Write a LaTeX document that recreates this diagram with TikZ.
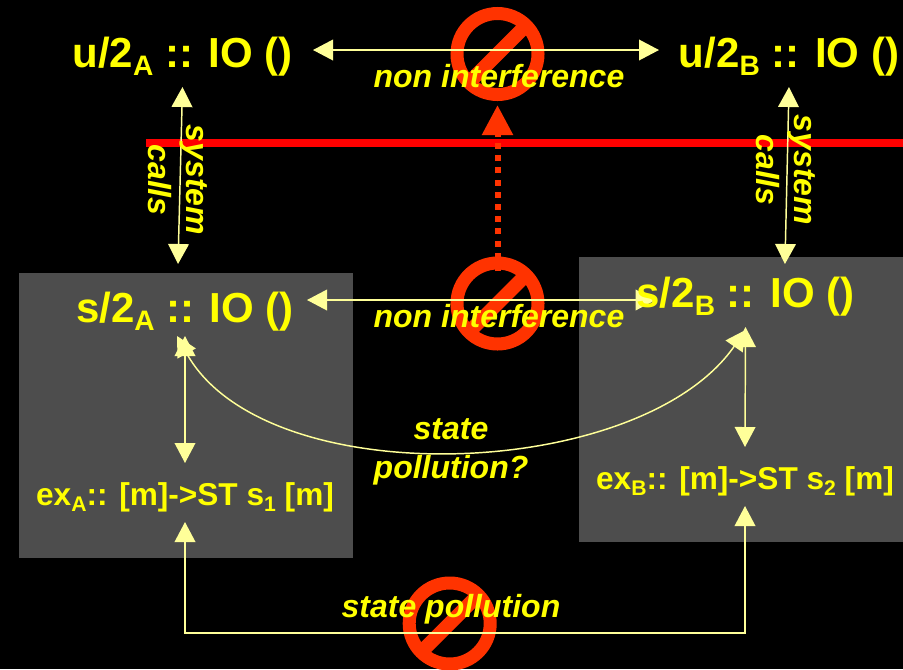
\documentclass[tikz,border=0pt]{standalone}
\usepackage{fontspec}
\usepackage{xcolor}
\setmainfont{Liberation Sans}
\usetikzlibrary{arrows.meta, backgrounds}
\definecolor{sigyellow}{HTML}{FFFF00}
\definecolor{linkyellow}{HTML}{FFFF99}
\definecolor{noorange}{HTML}{FF3300}
\definecolor{wallred}{HTML}{FF0000}
\definecolor{boxgray}{HTML}{4D4D4D}
\newcommand{\lowtxt}[1]{\raisebox{-.2em}{\scalebox{.67}{#1}}}

\begin{document}
\begin{tikzpicture}[
    x=0.75pt, y=-0.75pt,
    sig/.style={font=\fontsize{31.5}{38}\selectfont\bfseries, text=sigyellow, inner sep=0pt, outer sep=0pt, minimum height=54pt, text depth=0pt},
    exsig/.style={font=\fontsize{23.7}{29}\selectfont\bfseries, text=sigyellow, inner sep=0pt, outer sep=0pt, minimum height=44.25pt, text height=18.75pt, text depth=0pt},
    note/.style={font=\fontsize{24}{28.8}\selectfont\bfseries\itshape, text=sigyellow, inner sep=0pt, align=center},
    panel/.style={fill=boxgray, inner sep=0pt, minimum height=213.75pt},
    nosign/.style={circle, draw=noorange, line width=9.75pt, inner sep=0pt, outer sep=0pt, minimum size=60.75pt},
    noslash/.style={draw=noorange, line width=10.5pt},
    biarrow/.style={{Triangle[length=15pt,width=15.5pt]}-{Triangle[length=15pt,width=15.5pt]}, draw=linkyellow, line width=1.1pt},
    leakarrow/.style={-{Triangle[length=22.5pt,width=22.5pt]}, draw=noorange, line width=4.5pt, dash pattern=on 4.5pt off 4.65pt},
]
    \useasboundingbox (0, 0) rectangle (903, 669);

    % Backdrop, panels, kernel wall and prohibition signs
    \begin{scope}[on background layer]
        \fill[black] (0, 0) rectangle (903, 669);
        \node[panel, minimum width=250.5pt] (panelA) at (185.5, 415.5) {};
        \node[panel, minimum width=243pt] (panelB) at (741, 399.5) {};
        \fill[wallred] (146, 139.3) rectangle (903, 147.3);
        \node[nosign] (noTop) at (497.5, 54) {};
        \node[nosign] (noMid) at (497.5, 303.5) {};
        \node[nosign] (noBot) at (449.7, 623.5) {};
        \draw[noslash] (noTop.225) -- (noTop.45);
        \draw[noslash] (noMid.225) -- (noMid.45);
        \draw[noslash] (noBot.225) -- (noBot.45);
    \end{scope}

    % User level
    \node[sig, minimum width=195.75pt, minimum height=55.5pt, text height=25.5pt] (uA) at (182.5, 50) {u/2\lowtxt{A} :: IO ()};
    \node[sig, minimum width=195pt, minimum height=55.5pt, text height=25.5pt] (uB) at (789, 50) {u/2\lowtxt{B} :: IO ()};

    % Server level
    \node[sig, minimum width=183pt, text height=33pt] (sA) at (185, 300) {s/2\lowtxt{A} :: IO ()};
    \node[sig, text height=10.5pt] (sB) at (745.5, 300) {s/2\lowtxt{B} :: IO ()};
    \node[exsig] (exA) at (185, 492.5) {ex\lowtxt{A}:: [m]->ST s\lowtxt{1} [m]};
    \node[exsig] (exB) at (745, 476.5) {ex\lowtxt{B}:: [m]->ST s\lowtxt{2} [m]};

    % Labels
    \node[note, anchor=base] (nonTop) at (499, 87) {non interference};
    \node[note, anchor=base] (nonMid) at (499, 327) {non interference};
    \node[note] (pollQ) at (451, 452) {state\\pollution?};
    \node[note, anchor=base] (pollBot) at (451, 617) {state pollution};
    \node[note, rotate=-90] (callsA) at (178, 180) {system\\calls};
    \node[note, rotate=-90] (callsB) at (786, 170) {system\\calls};

    % Connections
    \begin{scope}[on background layer]
        \draw[biarrow] (uA.east) -- (uB.west);
        \draw[biarrow] (sA.east) -- ([xshift=14.25pt]sB.west);
        \draw[biarrow] (uA.south) -- ([xshift=-5.25pt]sA.north);
        \draw[biarrow] (uB.south) -- ([xshift=29.6pt]sB.north);
        \draw[biarrow] (sA.south) -- (exA.north);
        \draw[biarrow] ([yshift=6.75pt]sB.south) -- (exB.north);
        \draw[biarrow] ([xshift=-6pt]sA.south) .. controls (265, 495) and (640, 482) .. ([yshift=4.5pt]sB.south);
        \draw[biarrow] (exA.south) -- ++(0, 111) -| (exB.south);
        \draw[leakarrow, shorten <=-6pt, shorten >=8pt] (noMid.north) -- (noTop.south);
    \end{scope}
\end{tikzpicture}
\end{document}
